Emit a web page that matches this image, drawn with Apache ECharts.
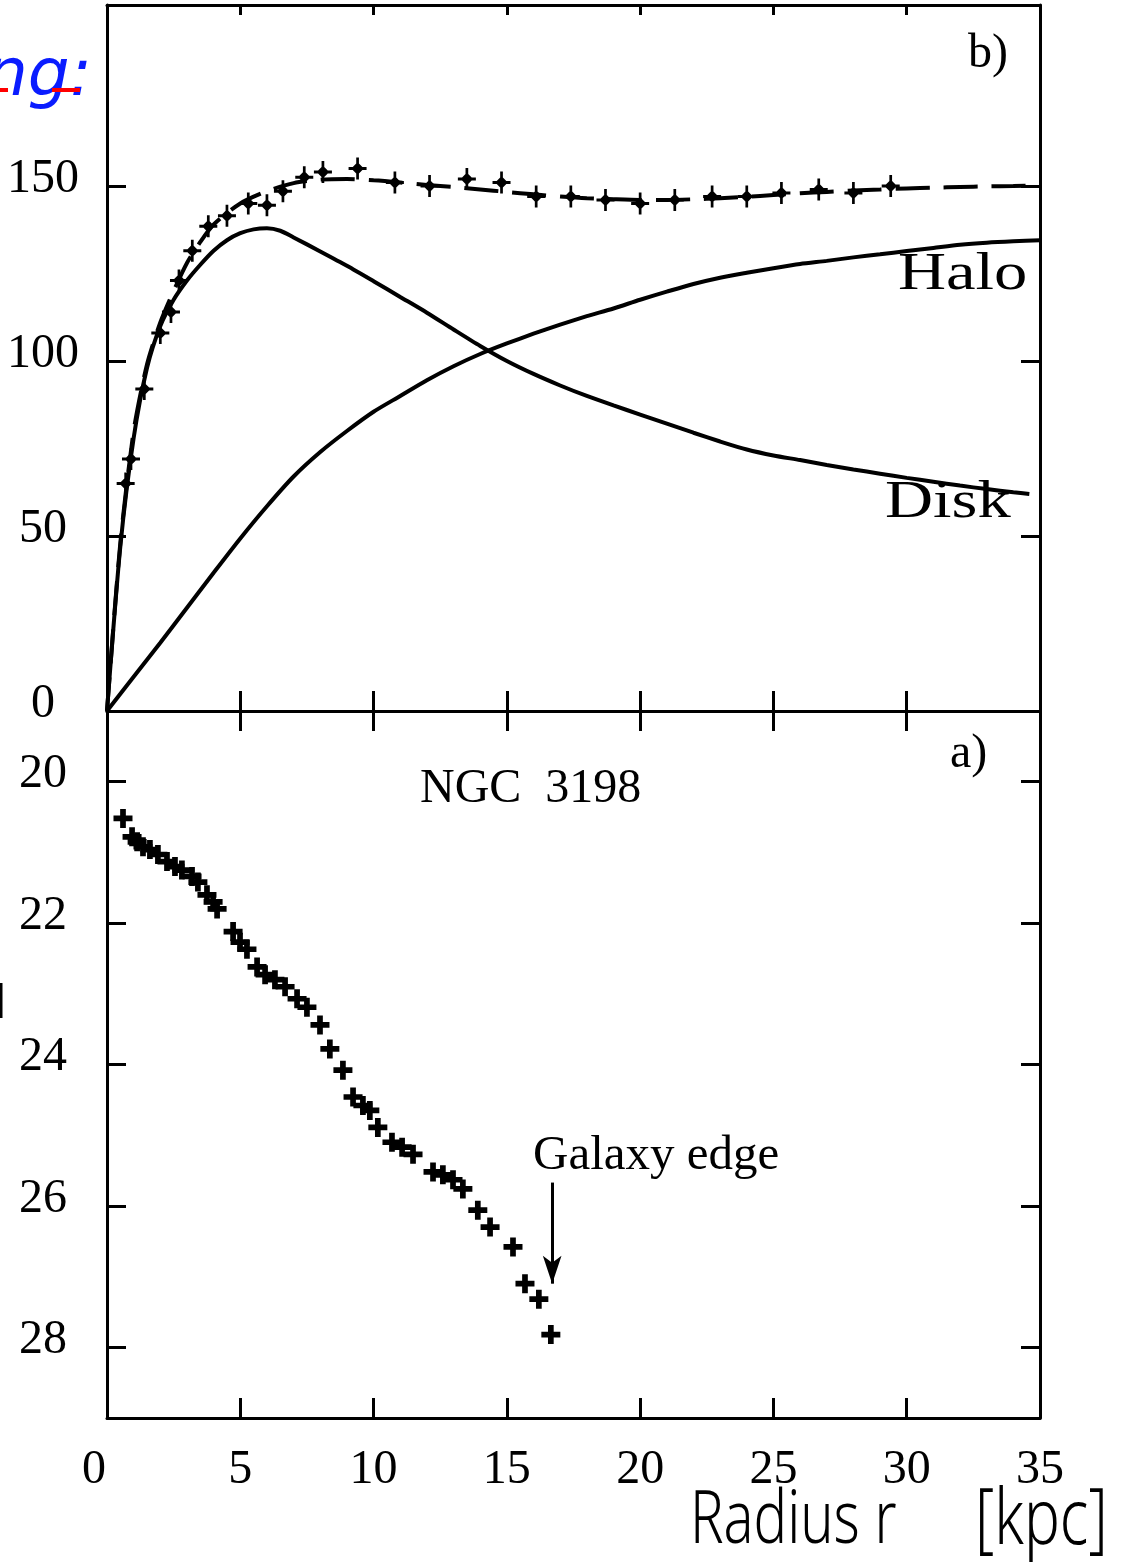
<!DOCTYPE html>
<html>
<head>
<meta charset="utf-8">
<script src="https://cdn.jsdelivr.net/npm/echarts@6/dist/echarts.min.js"></script>
<style>
  html, body { margin: 0; padding: 0; background: #fff; }
  #chart { width: 1128px; height: 1567px; }
</style>
</head>
<body>
<div id="chart"></div>
<script>
// ---- Panel b: rotation curve of NGC 3198 (radius in kpc, velocity in km/s) ----
const rotR = [0.7, 0.9, 1.4, 2.0, 2.4, 2.7, 3.2, 3.8, 4.5, 5.3, 6.0, 6.6, 7.4, 8.1, 9.4,
              10.8, 12.1, 13.5, 14.8, 16.1, 17.4, 18.7, 20.0, 21.3, 22.7, 24.0, 25.3, 26.7, 28.0, 29.4];
const rotV = [65, 72, 92, 108, 114, 123, 131.5, 138.5, 141.5, 145, 144.5, 148.5, 152.5, 154, 155,
              151, 150, 152, 151, 147, 147, 146, 145, 146, 147, 147, 148, 149, 148, 150];

// total model curve (dashed)
const totalR = [0, 0.5, 1, 1.5, 2, 2.5, 3, 3.5, 4, 5, 6, 7, 8, 9, 10, 11, 12, 13, 14, 15, 16, 17,
                18, 19, 20, 21, 22, 23, 24, 25, 26, 27, 28, 29, 30, 31, 32, 33, 34, 35];
const totalV = [0, 48, 80, 99, 111, 120, 128, 134, 139, 145, 148.5, 150.8, 151.8, 152, 151.6, 151,
                150.3, 149.7, 149, 148.3, 147.6, 147, 146.5, 146.2, 146, 146, 146.2, 146.5, 146.9,
                147.4, 147.9, 148.3, 148.7, 149, 149.3, 149.5, 149.7, 149.9, 150, 150.2];

// disk component
const diskR = [0, 0.5, 1, 1.5, 2, 2.5, 3, 3.5, 4, 4.5, 5, 5.5, 6, 6.5, 7, 8, 9, 10, 11, 12, 13, 14,
               15, 16, 17, 18, 19, 20, 21, 22, 23, 24, 25, 26, 27, 28, 29, 30, 31, 32, 33, 34, 34.6];
const diskV = [0, 47, 78, 98, 110, 117.5, 123, 127.5, 131.5, 134.5, 136.5, 137.6, 137.9, 137.2, 135.3,
               131.3, 127.2, 122.8, 118.3, 113.8, 109, 104.3, 100, 96.3, 93, 90, 87.3, 84.7, 82.1,
               79.5, 77, 74.7, 73, 71.7, 70.3, 69, 67.8, 66.6, 65.5, 64.4, 63.4, 62.5, 62];

// halo component
const haloR = [0, 1, 2, 3, 4, 5, 6, 7, 8, 9, 10, 11, 12, 13, 14, 15, 16, 17, 18, 19, 20, 21, 22,
               23, 24, 25, 26, 27, 28, 29, 30, 31, 32, 33, 34, 35];
const haloV = [0, 9.8, 19.5, 29.5, 39.5, 49.3, 58.5, 67, 74, 80, 85.5, 90, 94.5, 98.5, 102, 105,
               107.8, 110.4, 112.8, 115, 117.5, 119.8, 122, 123.8, 125.2, 126.5, 127.7, 128.6, 129.6,
               130.5, 131.4, 132.3, 133.2, 133.8, 134.2, 134.5];

// ---- Panel a: surface brightness profile (mag / arcsec^2) ----
const sbR = [0.60, 0.94, 1.13, 1.35, 1.61, 1.91, 2.25, 2.55, 2.81, 3.19, 3.41, 3.75, 3.98, 4.13,
             4.73, 4.99, 5.25, 5.63, 5.93, 6.30, 6.68, 7.13, 7.50, 7.99, 8.36, 8.85, 9.23, 9.60,
             9.86, 10.16, 10.69, 11.07, 11.48, 12.23, 12.60, 12.98, 13.35, 13.91, 14.37, 15.23,
             15.68, 16.20, 16.65];
const sbMu = [20.52, 20.78, 20.85, 20.92, 20.96, 21.03, 21.13, 21.20, 21.25, 21.34, 21.42, 21.60,
              21.70, 21.80, 22.12, 22.27, 22.37, 22.62, 22.73, 22.80, 22.90, 23.07, 23.19, 23.44,
              23.78, 24.08, 24.46, 24.58, 24.65, 24.89, 25.10, 25.17, 25.27, 25.52, 25.56, 25.63,
              25.76, 26.06, 26.30, 26.58, 27.10, 27.32, 27.82];

// "Galaxy edge" arrow
const edgeR = 16.7;
const edgeMuFrom = 25.67;
const edgeMuTo = 27.1;

// tick values
const velTicks = [0, 50, 100, 150];
const muTicks = [20, 22, 24, 26, 28];
const radiusStep = 5;

const zip = (xs, ys) => xs.map((x, i) => [x, ys[i]]);

const INK = '#000';
const SERIF = '"Liberation Serif", "Times New Roman", serif';

const plusSymbol = 'path://M7,0H13V7H20V13H13V20H7V13H0V7H7Z';
const rotSymbol = 'path://M8.5,0H11.5V6L17,11L11.5,16V22H8.5V16L3,11L8.5,6Z M0,9.5H20V12.5H0Z';

function xAxisCfg(grid, position, labels, tickLen) {
  return {
    type: 'value', gridIndex: grid, position: position,
    min: 0, max: 35, interval: radiusStep,
    axisLine: { show: true, onZero: false, lineStyle: { color: INK, width: 3 } },
    axisTick: { show: true, inside: true, length: tickLen, lineStyle: { color: INK, width: 3 } },
    axisLabel: labels ? {
      show: true, color: INK, fontFamily: SERIF, fontSize: 48, margin: 28,
      formatter: v => (v === 0 ? '{z|0}' : String(v)),
      rich: { z: { fontFamily: SERIF, fontSize: 48, color: INK, padding: [0, 26, 0, 0] } }
    } : { show: false },
    splitLine: { show: false }
  };
}

function yAxisCfg(grid, position, min, max, ticks, inverse, labels) {
  return {
    type: 'value', gridIndex: grid, position: position,
    min: min, max: max, inverse: inverse,
    axisLine: { show: true, onZero: false, lineStyle: { color: INK, width: 3 } },
    axisTick: { show: true, inside: true, length: 19, customValues: ticks, lineStyle: { color: INK, width: 3 } },
    axisLabel: labels ? {
      show: true, customValues: ticks, color: INK, fontFamily: SERIF, fontSize: 48,
      margin: 64, align: 'center', verticalAlign: 'bottom', lineHeight: 14
    } : { show: false },
    splitLine: { show: false }
  };
}

const chart = echarts.init(document.getElementById('chart'), null, { renderer: 'canvas' });

chart.setOption({
  animation: false,
  backgroundColor: '#fff',
  grid: [
    { left: 107, top: 5, width: 933, height: 706 },
    { left: 107, top: 711, width: 933, height: 707 }
  ],
  xAxis: [
    xAxisCfg(0, 'bottom', false, 20),
    xAxisCfg(0, 'top', false, 10),
    xAxisCfg(1, 'bottom', true, 20),
    xAxisCfg(1, 'top', false, 20)
  ],
  yAxis: [
    yAxisCfg(0, 'left', 0, 201.7, velTicks, false, true),
    yAxisCfg(0, 'right', 0, 201.7, velTicks, false, false),
    yAxisCfg(1, 'left', 19, 29, muTicks, true, true),
    yAxisCfg(1, 'right', 19, 29, muTicks, true, false)
  ],
  series: [
    {
      name: 'Halo', type: 'line', xAxisIndex: 0, yAxisIndex: 0,
      data: zip(haloR, haloV), smooth: 0.25, showSymbol: false,
      lineStyle: { color: INK, width: 4 }
    },
    {
      name: 'Disk', type: 'line', xAxisIndex: 0, yAxisIndex: 0,
      data: zip(diskR, diskV), smooth: 0.25, showSymbol: false,
      lineStyle: { color: INK, width: 4 }
    },
    {
      name: 'Total', type: 'line', xAxisIndex: 0, yAxisIndex: 0,
      data: zip(totalR, totalV), smooth: 0.25, showSymbol: false,
      lineStyle: { color: INK, width: 4, type: [34, 14] }
    },
    {
      name: 'Rotation', type: 'scatter', xAxisIndex: 0, yAxisIndex: 0,
      data: zip(rotR, rotV), symbol: rotSymbol, symbolSize: [18, 22],
      itemStyle: { color: INK, opacity: 1 }
    },
    {
      name: 'Surface brightness', type: 'scatter', xAxisIndex: 2, yAxisIndex: 2,
      data: zip(sbR, sbMu), symbol: plusSymbol, symbolSize: 19,
      itemStyle: { color: INK, opacity: 1 },
      markLine: {
        silent: true, animation: false,
        symbol: ['none', 'arrow'], symbolSize: [14, 28],
        label: { show: false },
        lineStyle: { color: INK, width: 3, type: 'solid' },
        data: [[{ coord: [edgeR, edgeMuFrom] }, { coord: [edgeR, edgeMuTo] }]]
      }
    }
  ],
  graphic: [
    { type: 'text', left: 968, top: 30, style: { text: 'b)', font: '48px ' + SERIF, fill: INK } },
    { type: 'text', left: 950, top: 730, style: { text: 'a)', font: '48px ' + SERIF, fill: INK } },
    { type: 'text', left: 420, top: 765, style: { text: 'NGC  3198', font: '48px ' + SERIF, fill: INK } },
    { type: 'text', x: 898, y: 275, scaleX: 1.28,
      style: { text: 'Halo', font: '52px ' + SERIF, fill: INK, verticalAlign: 'middle', align: 'left' } },
    { type: 'text', x: 885, y: 503, scaleX: 1.28,
      style: { text: 'Disk', font: '52px ' + SERIF, fill: INK, verticalAlign: 'middle', align: 'left' } },
    { type: 'text', x: 533, y: 1156,
      style: { text: 'Galaxy edge', font: '49px ' + SERIF, fill: INK, verticalAlign: 'middle', align: 'left' } },
    { type: 'text', x: 690, y: 1522, scaleY: 1.3,
      style: { text: 'Radius r', font: '300 56px "Noto Sans", sans-serif', fill: INK, verticalAlign: 'middle', align: 'left' } },
    { type: 'text', x: 975, y: 1522, scaleY: 1.3,
      style: { text: '[kpc]', font: '300 60px "Noto Sans", sans-serif', fill: INK, verticalAlign: 'middle', align: 'left' } },
    { type: 'text', x: -14, y: 78,
      style: { text: 'ng:', font: 'italic 66px "DejaVu Sans", sans-serif', fill: '#0a1cff', verticalAlign: 'middle', align: 'left' } },
    { type: 'line', shape: { x1: 0, y1: 90, x2: 8, y2: 90 }, style: { stroke: '#ff0000', lineWidth: 4 } },
    { type: 'line', shape: { x1: 52, y1: 90, x2: 80, y2: 90 }, style: { stroke: '#ff0000', lineWidth: 4 } },
    { type: 'line', shape: { x1: 1, y1: 983, x2: 1, y2: 1018 }, style: { stroke: INK, lineWidth: 3 } }
  ]
});
</script>
</body>
</html>
